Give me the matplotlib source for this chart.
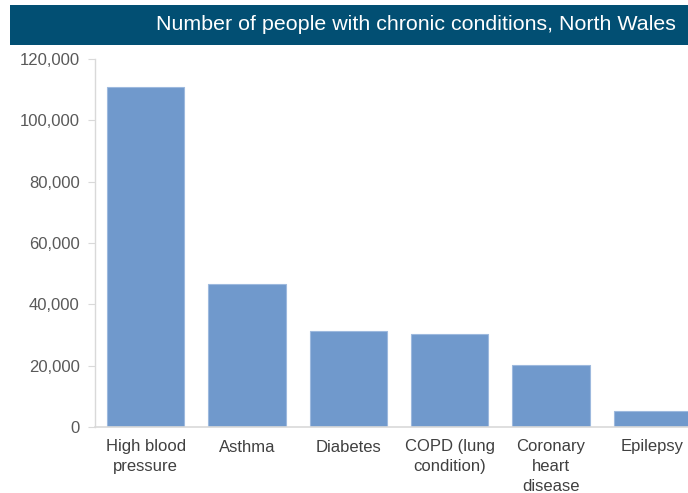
import matplotlib
matplotlib.use("Agg")
import matplotlib.pyplot as plt
from matplotlib.ticker import FuncFormatter
from matplotlib.patches import Rectangle

categories = ["High blood\npressure", "Asthma", "Diabetes", "COPD (lung\ncondition)",
              "Coronary\nheart\ndisease", "Epilepsy"]
values = [111000, 46700, 31200, 30200, 20100, 5100]
yticks = [0, 20000, 40000, 60000, 80000, 100000, 120000]
title = "Number of people with chronic conditions, North Wales"

plt.rcParams['font.family'] = ['Liberation Sans', 'DejaVu Sans']

fig = plt.figure(figsize=(6.88, 4.93), dpi=100)
ax = fig.add_axes([95/688, 66/493, 608/688, 368/493])

x = list(range(len(categories)))
ax.bar(x, values, width=0.76, color='#7099CC', edgecolor='#9DB9DE', linewidth=0.8)
ax.set_xlim(-0.5, 5.5)
ax.set_ylim(0, 120000)
ax.set_yticks(yticks)
ax.yaxis.set_major_formatter(FuncFormatter(lambda v, p: f"{int(v):,}"))
ax.set_xticks(x)
ax.set_xticklabels(categories, fontsize=12, color='#404040', linespacing=1.4)
ax.tick_params(axis='y', labelsize=12, labelcolor='#595959', color='#D9D9D9', length=5, pad=6)
ax.tick_params(axis='x', length=0, pad=9)
for s in ['top', 'right']:
    ax.spines[s].set_visible(False)
ax.spines['left'].set_color('#D9D9D9')
ax.spines['bottom'].set_color('#D9D9D9')
ax.spines['left'].set_linewidth(1)
ax.spines['bottom'].set_linewidth(1.2)

# title bar
fig.patches.append(Rectangle((10/688, 1 - 45/493), 1 - 10/688, 40/493, transform=fig.transFigure,
                             facecolor='#024F73', edgecolor='none'))
fig.text(676/688, 1 - 25/493, title, ha='right', va='center', color='white', fontsize=15.4)

fig.savefig("out.png", dpi=100)
